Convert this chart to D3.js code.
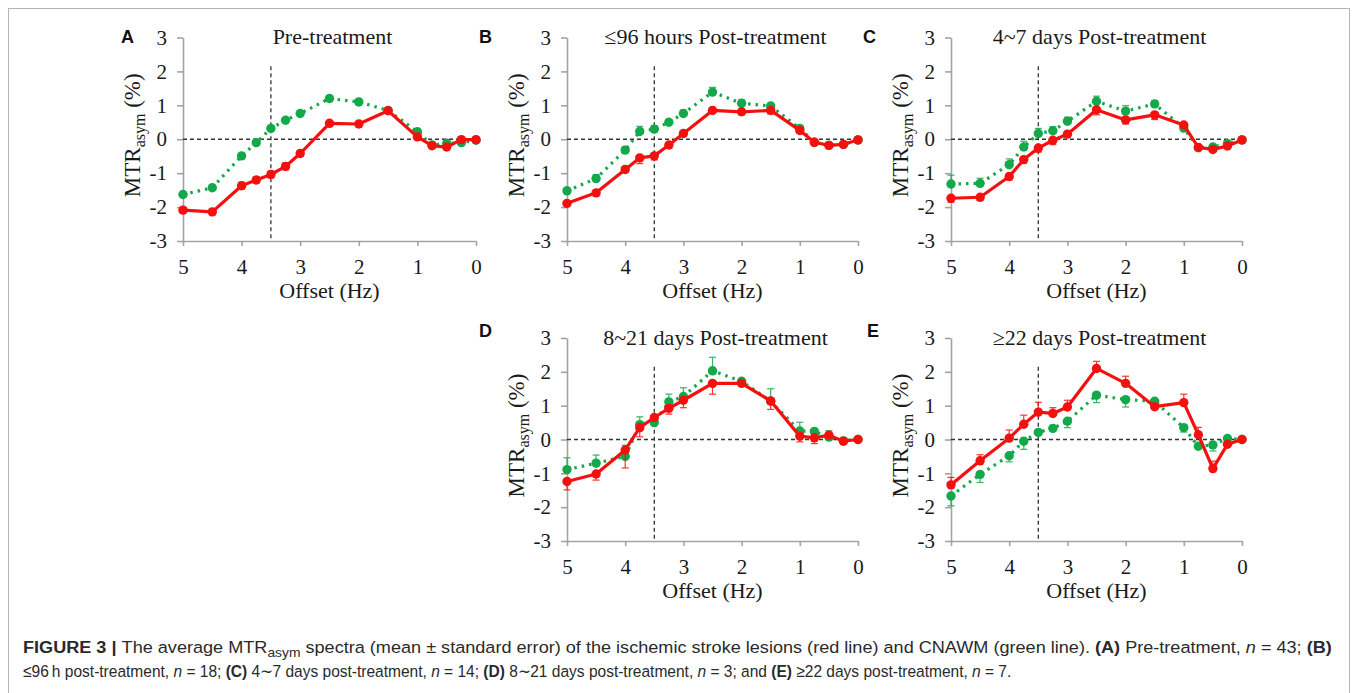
<!DOCTYPE html>
<html>
<head>
<meta charset="utf-8">
<script src="https://cdn.jsdelivr.net/npm/d3@7"></script>
<style>
  html, body { margin: 0; padding: 0; background: #fff; }
  svg { display: block; }
</style>
</head>
<body>
<svg id="chart" width="1357" height="693"></svg>
<script>
// ---------------- DATA ----------------
const offsets = [5, 4.5, 4, 3.75, 3.5, 3.25, 3, 2.5, 2, 1.5, 1, 0.75, 0.5, 0.25, 0];
const xTickValues = [5, 4, 3, 2, 1, 0];
const yTickValues = [-3, -2, -1, 0, 1, 2, 3];
const panelLetters = ["A", "B", "C", "D", "E"];
const panelTitles = ["Pre-treatment", "\u226496 hours Post-treatment", "4~7 days Post-treatment",
                     "8~21 days Post-treatment", "\u226522 days Post-treatment"];
const xAxisTitle = "Offset (Hz)";
const thresholdOffset = 3.5;

// lesion (red) means
const redA = [-2.09, -2.14, -1.37, -1.2, -1.04, -0.8, -0.42, 0.47, 0.45, 0.84, 0.07, -0.19, -0.23, -0.01, -0.01];
const redB = [-1.89, -1.58, -0.89, -0.55, -0.49, -0.17, 0.17, 0.85, 0.81, 0.85, 0.26, -0.09, -0.18, -0.15, -0.02];
const redC = [-1.74, -1.71, -1.1, -0.6, -0.26, -0.03, 0.15, 0.87, 0.57, 0.72, 0.42, -0.24, -0.3, -0.2, -0.02];
const redD = [-1.24, -1.02, -0.31, 0.35, 0.65, 0.92, 1.16, 1.66, 1.66, 1.14, 0.1, 0.05, 0.13, -0.05, 0];
const redE = [-1.34, -0.63, 0.04, 0.45, 0.81, 0.77, 0.96, 2.1, 1.66, 0.97, 1.09, 0.14, -0.86, -0.14, 0];
// CNAWM (green) means
const greenA = [-1.63, -1.43, -0.49, -0.1, 0.32, 0.56, 0.76, 1.2, 1.1, 0.85, 0.22, -0.17, -0.12, -0.1, -0.03];
const greenB = [-1.52, -1.16, -0.32, 0.23, 0.3, 0.5, 0.76, 1.39, 1.06, 0.98, 0.32, -0.09, -0.18, -0.15, -0.02];
const greenC = [-1.32, -1.3, -0.75, -0.23, 0.17, 0.25, 0.53, 1.12, 0.83, 1.04, 0.33, -0.25, -0.23, -0.13, -0.02];
const greenD = [-0.89, -0.7, -0.5, 0.44, 0.5, 1.11, 1.27, 2.03, 1.72, 1.13, 0.25, 0.24, 0.07, -0.04, 0];
const greenE = [-1.67, -1.03, -0.48, -0.05, 0.21, 0.33, 0.54, 1.31, 1.18, 1.13, 0.35, -0.2, -0.16, 0.03, 0];
// standard errors
const redErrA = [0.07, 0.07, 0.1, 0.09, 0.1, 0.1, 0.08, 0.07, 0.08, 0.05, 0.05, 0.05, 0.05, 0.03, 0.02];
const redErrB = [0.07, 0.08, 0.08, 0.17, 0.12, 0.1, 0.08, 0.07, 0.09, 0.1, 0.05, 0.04, 0.04, 0.03, 0.02];
const redErrC = [0.12, 0.1, 0.09, 0.1, 0.12, 0.13, 0.08, 0.15, 0.12, 0.14, 0.05, 0.06, 0.06, 0.05, 0.02];
const redErrD = [0.25, 0.18, 0.53, 0.27, 0.05, 0.17, 0.22, 0.32, 0.05, 0.25, 0.17, 0.17, 0.05, 0.03, 0.02];
const redErrE = [0.22, 0.18, 0.24, 0.27, 0.29, 0.17, 0.2, 0.21, 0.21, 0.05, 0.25, 0.22, 0.22, 0.03, 0.02];
const greenErrA = [0.05, 0.08, 0.05, 0.05, 0.05, 0.05, 0.05, 0.05, 0.05, 0.04, 0.04, 0.04, 0.04, 0.03, 0.02];
const greenErrB = [0.08, 0.12, 0.1, 0.15, 0.1, 0.08, 0.1, 0.14, 0.1, 0.08, 0.05, 0.03, 0.03, 0.03, 0.02];
const greenErrC = [0.26, 0.15, 0.17, 0.17, 0.15, 0.12, 0.12, 0.15, 0.16, 0.1, 0.06, 0.04, 0.05, 0.04, 0.02];
const greenErrD = [0.35, 0.24, 0.33, 0.23, 0.05, 0.23, 0.26, 0.4, 0.05, 0.37, 0.26, 0.05, 0.19, 0.03, 0.02];
const greenErrE = [0.29, 0.24, 0.18, 0.24, 0.05, 0.05, 0.19, 0.22, 0.22, 0.05, 0.13, 0.03, 0.18, 0.03, 0.02];

const redSeries = [redA, redB, redC, redD, redE];
const greenSeries = [greenA, greenB, greenC, greenD, greenE];
const redErrs = [redErrA, redErrB, redErrC, redErrD, redErrE];
const greenErrs = [greenErrA, greenErrB, greenErrC, greenErrD, greenErrE];

// ---------------- LAYOUT (positions / styles) ----------------
const layout = [
  { x0: 183, x1: 476, yT: 37.5, yB: 241, letterX: 121, letterY: 43, redDir: 0, greenDir: 1 },
  { x0: 567, x1: 858, yT: 37.5, yB: 241, letterX: 479, letterY: 43, redDir: -1, greenDir: 1 },
  { x0: 951, x1: 1242, yT: 37.5, yB: 241, letterX: 863, letterY: 43, redDir: -1, greenDir: 1 },
  { x0: 567, x1: 858, yT: 338, yB: 541, letterX: 479, letterY: 337, redDir: -1, greenDir: 1 },
  { x0: 951, x1: 1242, yT: 338, yB: 541, letterX: 867, letterY: 337, redDir: 1, greenDir: -1 }
];
const RED = "#f51010";
const GREEN = "#13a84a";
const AXIS = "#a3a3a3";
const INK = "#1a1a1a";
const SERIF = "'Liberation Serif', 'Times New Roman', serif";
const SANS = "'Liberation Sans', Arial, Helvetica, sans-serif";

const svg = d3.select("#chart");

// outer frame
svg.append("rect").attr("x", 8.5).attr("y", 8.5).attr("width", 1341).attr("height", 700)
  .attr("fill", "none").attr("stroke", "#b5b5b5").attr("stroke-width", 1);

layout.forEach((L, i) => {
  const g = svg.append("g");
  const x = d3.scaleLinear().domain([5, 0]).range([L.x0, L.x1]);
  const y = d3.scaleLinear().domain([-3, 3]).range([L.yB, L.yT]);

  // y axis
  const ya = g.append("g").attr("transform", `translate(${L.x0},0)`)
    .call(d3.axisLeft(y).tickValues(yTickValues).tickSize(6).tickSizeOuter(0).tickPadding(10).tickFormat(d => String(d)));
  // x axis
  const xa = g.append("g").attr("transform", `translate(0,${L.yB})`)
    .call(d3.axisBottom(x).tickValues(xTickValues).tickSize(5).tickSizeOuter(0).tickPadding(13).tickFormat(d => String(d)));
  [ya, xa].forEach(a => {
    a.select(".domain").attr("stroke", AXIS).attr("stroke-width", 1.6);
    a.selectAll(".tick line").attr("stroke", AXIS).attr("stroke-width", 1.6);
    a.selectAll(".tick text").attr("fill", INK).style("font-family", SERIF).style("font-size", "21px");
  });

  // reference dashed lines
  g.append("line").attr("x1", x(5)).attr("x2", x(0)).attr("y1", y(0)).attr("y2", y(0))
    .attr("stroke", "#333").attr("stroke-width", 1.3).attr("stroke-dasharray", "4,3");
  g.append("line").attr("x1", x(thresholdOffset)).attr("x2", x(thresholdOffset)).attr("y1", y(2.15)).attr("y2", y(-3))
    .attr("stroke", "#333").attr("stroke-width", 1.3).attr("stroke-dasharray", "4,3");

  const drawSeries = (vals, errs, dir, color, dashed) => {
    const pts = offsets.map((o, k) => ({ o, v: vals[k], e: errs[k] }));
    // error bars
    const eb = g.append("g").attr("stroke", color).attr("stroke-width", 1.2).attr("opacity", 0.85);
    pts.forEach(p => {
      const a = dir === 0 ? p.v - p.e : (dir > 0 ? p.v : p.v - p.e);
      const b = dir === 0 ? p.v + p.e : (dir > 0 ? p.v + p.e : p.v);
      eb.append("line").attr("x1", x(p.o)).attr("x2", x(p.o)).attr("y1", y(a)).attr("y2", y(b));
      const ends = dir === 0 ? [a, b] : (dir > 0 ? [b] : [a]);
      ends.forEach(t => eb.append("line").attr("x1", x(p.o) - 3.5).attr("x2", x(p.o) + 3.5).attr("y1", y(t)).attr("y2", y(t)));
    });
    const line = d3.line().x(d => x(d.o)).y(d => y(d.v));
    g.append("path").datum(pts).attr("d", line).attr("fill", "none").attr("stroke", color)
      .attr("stroke-width", 3.2).attr("stroke-dasharray", dashed ? "2.5,5" : null)
      .attr("stroke-linecap", dashed ? "butt" : "round").attr("stroke-linejoin", "round");
    g.append("g").selectAll("circle").data(pts).join("circle")
      .attr("cx", d => x(d.o)).attr("cy", d => y(d.v)).attr("r", 4.7).attr("fill", color);
  };
  drawSeries(greenSeries[i], greenErrs[i], L.greenDir, GREEN, true);
  drawSeries(redSeries[i], redErrs[i], L.redDir, RED, false);

  // titles
  g.append("text").attr("x", (L.x0 + L.x1) / 2 + 3).attr("y", L.yT + 6.5).attr("text-anchor", "middle")
    .style("font-family", SERIF).style("font-size", "22px").attr("fill", INK).text(panelTitles[i]);
  g.append("text").attr("x", L.letterX).attr("y", L.letterY)
    .style("font-family", SANS).style("font-weight", "bold").style("font-size", "18px").attr("fill", "#111").text(panelLetters[i]);
  g.append("text").attr("x", (L.x0 + L.x1) / 2).attr("y", L.yB + 57).attr("text-anchor", "middle")
    .style("font-family", SERIF).style("font-size", "22px").attr("fill", INK).text(xAxisTitle);
  const yt = g.append("text").attr("transform", `translate(${L.x0 - 43},${(L.yT + L.yB) / 2 - 4}) rotate(-90)`)
    .attr("text-anchor", "middle").style("font-family", SERIF).style("font-size", "23px").attr("fill", INK);
  yt.append("tspan").text("MTR");
  yt.append("tspan").attr("dy", 5).style("font-size", "16px").text("asym");
  yt.append("tspan").attr("dy", -5).text(" (%)");
});

// ---------------- CAPTION ----------------
const parts1 = [
  ["FIGURE 3", "b"], [" | ", "b"], ["The average MTR", ""], ["asym", "sub"], [" spectra (mean \u00b1 standard error) of the ischemic stroke lesions (red line) and CNAWM (green line). ", ""],
  ["(A)", "b"], [" Pre-treatment, ", ""], ["n", "i"], [" = 43; ", ""], ["(B)", "b"]
];
const parts2 = [
  ["\u226496\u2009h post-treatment, ", ""], ["n", "i"], [" = 18; ", ""], ["(C)", "b"], [" 4\u223c7 days post-treatment, ", ""], ["n", "i"], [" = 14; ", ""],
  ["(D)", "b"], [" 8\u223c21 days post-treatment, ", ""], ["n", "i"], [" = 3; and ", ""], ["(E)", "b"], [" \u226522 days post-treatment, ", ""], ["n", "i"], [" = 7.", ""]
];
function fill(t, parts) {
  let shifted = false;
  parts.forEach(([s, k]) => {
    const ts = t.append("tspan").text(s);
    if (k === "b") ts.style("font-weight", "bold");
    if (k === "i") ts.style("font-style", "italic");
    if (k === "sub") { ts.attr("dy", 4).style("font-size", "13px"); shifted = true; }
    else if (shifted) { ts.attr("dy", -4); shifted = false; }
  });
}
const mkCap = () => svg.append("text").attr("x", 0).attr("y", 0)
  .style("font-family", SANS).style("font-size", "17px").attr("fill", "#2a2a2a");
const cap1 = mkCap(); fill(cap1, parts1);
const cap2 = mkCap(); fill(cap2, parts2);
const s1 = 1310 / cap1.node().getComputedTextLength();
const s2 = 990 / cap2.node().getComputedTextLength();
cap1.attr("transform", `translate(23,653) scale(${s1},1)`);
cap2.attr("transform", `translate(23,677) scale(${s2},1)`);
</script>
</body>
</html>
